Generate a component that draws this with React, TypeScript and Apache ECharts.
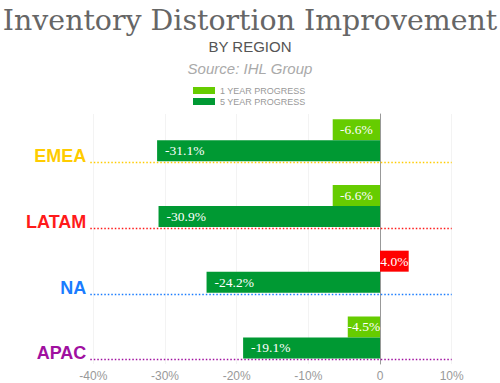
import React, { useEffect, useRef } from "react";
import * as echarts from "echarts";

const categories = ["EMEA", "LATAM", "NA", "APAC"];
const categoryColors = ["#ffcc00", "#ff1a1a", "#1a7cff", "#a010a0"];
const oneYear = [-6.6, -6.6, 4.0, -4.5];
const fiveYear = [-31.1, -30.9, -24.2, -19.1];
const xTicks = [-40, -30, -20, -10, 0, 10];

const GREEN_LIGHT = "#66cc00";
const GREEN_DARK = "#009933";
const RED = "#ff0000";

export default function App() {
  const ref = useRef<HTMLDivElement>(null);
  useEffect(() => {
    if (!ref.current) return;
    const chart = echarts.init(ref.current, undefined, { renderer: "svg" });
    const left = 93.3;
    const right = 48.3;
    const fmt = (v: number) => (v === 0 ? "0" : v + "%");
    const pct = (p: any) => (p.value as number).toFixed(1) + "%";
    chart.setOption({
      animation: false,
      backgroundColor: "#ffffff",
      title: [
        {
          text: "Inventory Distortion Improvement",
          left: "center",
          top: 1,
          textStyle: { fontFamily: "DejaVu Serif", fontWeight: "normal", fontSize: 28.4, color: "#666666" },
        },
        {
          text: "BY REGION",
          left: "center",
          top: 34,
          textStyle: { fontFamily: "Liberation Sans", fontWeight: "normal", fontSize: 15, color: "#555555" },
        },
        {
          text: "Source: IHL Group",
          left: "center",
          top: 56,
          textStyle: { fontFamily: "Liberation Sans", fontStyle: "italic", fontWeight: "normal", fontSize: 15, color: "#aaaaaa" },
        },
      ],
      legend: {
        orient: "vertical",
        left: 193,
        top: 86,
        padding: 0,
        itemWidth: 22,
        itemHeight: 7,
        itemGap: 2,
        icon: "rect",
        textStyle: { fontFamily: "Liberation Sans", fontSize: 9, color: "#999999" },
        data: ["1 YEAR PROGRESS", "5 YEAR PROGRESS"],
      },
      grid: [
        { left, right, top: 114, height: 250 },
        { left, right, top: 107.3, height: 263 },
      ],
      xAxis: [
        {
          gridIndex: 0,
          type: "value",
          min: -40,
          max: 10,
          interval: 10,
          axisLine: { show: false },
          axisTick: { show: false },
          splitLine: { show: true, lineStyle: { color: "#f3f3f3", width: 1 } },
          axisLabel: {
            margin: 6,
            fontFamily: "Liberation Sans",
            fontSize: 12,
            color: "#999999",
            formatter: (v: number) => (xTicks.includes(v) ? fmt(v) : ""),
          },
        },
        {
          gridIndex: 1,
          type: "value",
          min: -40,
          max: 10,
          interval: 10,
          show: false,
        },
      ],
      yAxis: [
        {
          gridIndex: 0,
          type: "category",
          inverse: true,
          data: categories,
          axisLine: { show: true, onZero: true, lineStyle: { color: "#999999", width: 1 } },
          axisTick: { show: false },
          axisLabel: { show: false },
          splitLine: { show: false },
        },
        {
          gridIndex: 1,
          type: "category",
          inverse: true,
          data: categories,
          axisLine: { show: false, onZero: false },
          axisTick: { show: false },
          splitLine: { show: false },
          axisLabel: { show: false },
        },
      ],
      series: [
        {
          name: "1 YEAR PROGRESS",
          type: "bar",
          xAxisIndex: 1,
          yAxisIndex: 1,
          barWidth: 21,
          barGap: "0%",
          itemStyle: { color: GREEN_LIGHT },
          data: oneYear.map((v) => (v > 0 ? { value: v, itemStyle: { color: RED } } : v)),
          label: {
            show: true,
            position: "inside",
            color: "#ffffff",
            fontFamily: "Liberation Serif",
            fontSize: 13.5,
            formatter: pct,
          },
        },
        {
          name: "5 YEAR PROGRESS",
          type: "bar",
          xAxisIndex: 1,
          yAxisIndex: 1,
          barWidth: 21,
          barGap: "0%",
          itemStyle: { color: GREEN_DARK },
          data: fiveYear,
          label: {
            show: true,
            position: "insideLeft",
            distance: 8,
            color: "#ffffff",
            fontFamily: "Liberation Serif",
            fontSize: 13.5,
            formatter: pct,
          },
        },
        {
          type: "custom",
          xAxisIndex: 1,
          yAxisIndex: 1,
          silent: true,
          z: 1,
          encode: { x: 0, y: 1 },
          data: categories.map((_c, i) => [0, i]),
          renderItem: (params: any, api: any) => {
            const idx = api.value(1);
            const pt = api.coord([0, idx]);
            const cs = params.coordSys;
            const y = Math.round(pt[1] + 22) + 0.5;
            return {
              type: "group",
              children: [
                {
                  type: "line",
                  shape: { x1: cs.x - 3, y1: y, x2: cs.x + cs.width, y2: y },
                  style: { stroke: categoryColors[idx], lineWidth: 1.5, lineDash: [1.5, 2] },
                },
                {
                  type: "text",
                  x: cs.x - 7,
                  y: pt[1] + 16,
                  style: {
                    text: categories[idx],
                    fill: categoryColors[idx],
                    fontFamily: "Liberation Sans",
                    fontWeight: "bold",
                    fontSize: 18,
                    align: "right",
                    verticalAlign: "middle",
                  },
                },
              ],
            };
          },
        },
      ],
    });
    return () => chart.dispose();
  }, []);
  return (
    <div
      ref={ref}
      style={{ position: "fixed", left: 0, top: 0, width: 500, height: 383, overflow: "hidden" }}
    />
  );
}
